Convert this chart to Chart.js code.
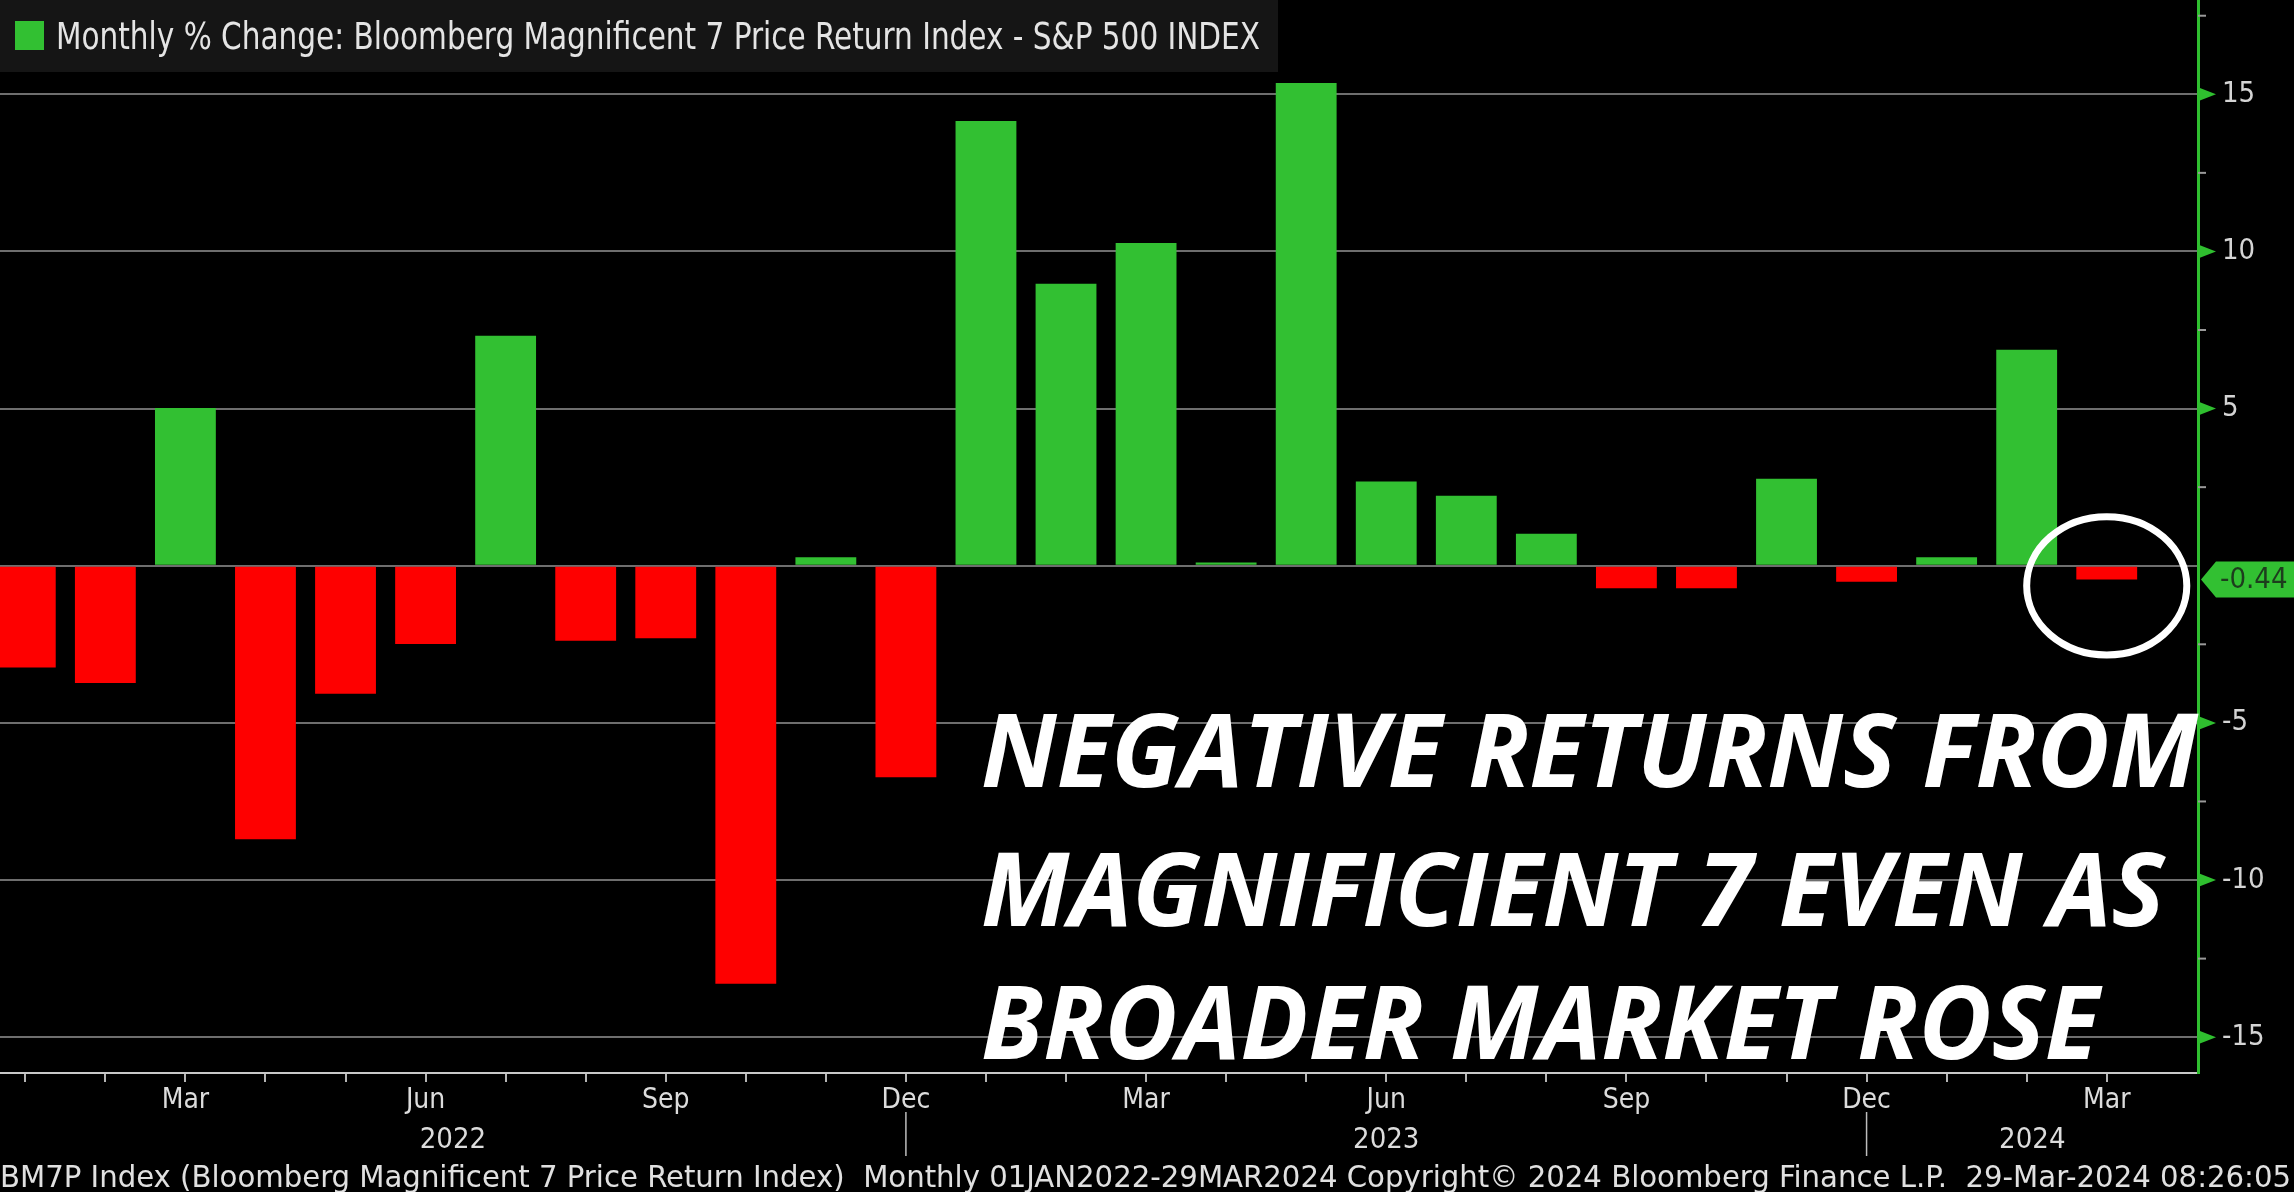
<!DOCTYPE html>
<html>
<head>
    <title>Magnificent 7 vs S&amp;P 500 - Monthly % Change</title>
    <script src="https://cdn.jsdelivr.net/npm/chart.js@4.4.1/dist/chart.umd.min.js"></script>
    <style>
        html, body {
            margin: 0;
            padding: 0;
            background: #000;
        }
        .wrap {
            width: 2294px;
            height: 1192px;
            position: relative;
        }
    </style>
</head>
<body>
    <div class="wrap"><canvas id="chart"></canvas></div>

    <script>
        // Monthly % change, BM7P minus S&P 500, Jan 2022 .. Mar 2024
        const monthNames = ['Jan', 'Feb', 'Mar', 'Apr', 'May', 'Jun', 'Jul', 'Aug', 'Sep', 'Oct', 'Nov', 'Dec',
                            'Jan', 'Feb', 'Mar', 'Apr', 'May', 'Jun', 'Jul', 'Aug', 'Sep', 'Oct', 'Nov', 'Dec',
                            'Jan', 'Feb', 'Mar'];
        const values = [-3.24, -3.73, 5.02, -8.70, -4.07, -2.49, 7.32, -2.39, -2.31, -13.3, 0.27, -6.73,
                        14.15, 8.97, 10.27, 0.10, 15.36, 2.68, 2.23, 1.02, -0.72, -0.72, 2.77, -0.51,
                        0.27, 6.87, -0.44];
        const tickLabels = ['', '', 'Mar', '', '', 'Jun', '', '', 'Sep', '', '', 'Dec',
                            '', '', 'Mar', '', '', 'Jun', '', '', 'Sep', '', '', 'Dec',
                            '', '', 'Mar'];
        const yearLabels = ['2022', '2023', '2024'];
        const yTicks = [-15, -10, -5, 0, 5, 10, 15];
        const yMinorTicks = [-12.5, -7.5, -2.5, 2.5, 7.5, 12.5, 17.5];

        const legendText = 'Monthly % Change: Bloomberg Magnificent 7 Price Return Index - S&P 500 INDEX';
        const footerText = 'BM7P Index (Bloomberg Magnificent 7 Price Return Index)  Monthly 01JAN2022-29MAR2024 Copyright\u00A9 2024 Bloomberg Finance L.P.  29-Mar-2024 08:26:05';
        const noteLines = ['NEGATIVE RETURNS FROM', 'MAGNIFICIENT 7 EVEN AS', 'BROADER MARKET ROSE'];

        const GREEN = '#32c032';
        const RED = '#fe0000';
        const AXIS_GREEN = '#2fbf2f';
        const COND = '"DejaVu Sans Condensed", "Liberation Sans Narrow", "DejaVu Sans", sans-serif';

        // draw text squeezed/stretched horizontally to a target width
        function fitText(ctx, text, x, y, width) {
            const w = ctx.measureText(text).width;
            ctx.save();
            ctx.translate(x, y);
            ctx.scale(width / w, 1);
            ctx.fillText(text, 0, 0);
            ctx.restore();
        }

        const overlay = {
            id: 'overlay',
            afterDraw(chart) {
                const ctx = chart.ctx;
                const a = chart.chartArea;
                const x = chart.scales.x;
                const y = chart.scales.y;
                const W = chart.width;
                ctx.save();

                // minor ticks on the value axis
                ctx.strokeStyle = '#9a9a9a';
                ctx.lineWidth = 2;
                yMinorTicks.forEach(v => {
                    const py = y.getPixelForValue(v);
                    ctx.beginPath();
                    ctx.moveTo(a.right, py);
                    ctx.lineTo(a.right + 8, py);
                    ctx.stroke();
                });

                // green arrow markers at major ticks
                ctx.fillStyle = AXIS_GREEN;
                yTicks.forEach(v => {
                    if (v === 0) return;
                    const py = y.getPixelForValue(v);
                    ctx.beginPath();
                    ctx.moveTo(a.right, py - 7);
                    ctx.lineTo(a.right + 18, py);
                    ctx.lineTo(a.right, py + 7);
                    ctx.closePath();
                    ctx.fill();
                });

                // last value flag
                const last = values[values.length - 1];
                const fy = y.getPixelForValue(last);
                ctx.fillStyle = GREEN;
                ctx.beginPath();
                ctx.moveTo(a.right + 3, fy);
                ctx.lineTo(a.right + 18, fy - 18);
                ctx.lineTo(W, fy - 18);
                ctx.lineTo(W, fy + 18);
                ctx.lineTo(a.right + 18, fy + 18);
                ctx.closePath();
                ctx.fill();
                ctx.fillStyle = '#1d3d1d';
                ctx.font = '29px ' + COND;
                ctx.textBaseline = 'middle';
                ctx.textAlign = 'left';
                ctx.fillText(last.toFixed(2), a.right + 22, fy + 1);

                // year separators and year labels
                const decs = [];
                monthNames.forEach((m, i) => { if (m === 'Dec') decs.push(x.getPixelForValue(i)); });
                ctx.strokeStyle = '#bdbdbd';
                ctx.lineWidth = 1.5;
                decs.forEach(px => {
                    ctx.beginPath();
                    ctx.moveTo(px, 1112);
                    ctx.lineTo(px, 1156);
                    ctx.stroke();
                });
                const edges = [a.left].concat(decs, [a.right]);
                ctx.fillStyle = '#dcdcdc';
                ctx.font = '29px ' + COND;
                ctx.textAlign = 'center';
                ctx.textBaseline = 'alphabetic';
                yearLabels.forEach((t, i) => {
                    ctx.fillText(t, (edges[i] + edges[i + 1]) / 2, 1148);
                });

                // legend box
                ctx.fillStyle = '#151515';
                ctx.fillRect(0, 0, 1278, 72);
                ctx.fillStyle = GREEN;
                ctx.fillRect(15, 21, 29, 29);
                ctx.fillStyle = '#e4e4e4';
                ctx.font = '37px ' + COND;
                ctx.textAlign = 'left';
                fitText(ctx, legendText, 56, 49, 1204);

                // annotation
                ctx.fillStyle = '#ffffff';
                ctx.font = 'italic bold 102px "Open Sans", "DejaVu Sans", sans-serif';
                const sx = 1217 / ctx.measureText(noteLines[0]).width;
                const baselines = [787, 926, 1059];
                noteLines.forEach((t, i) => {
                    ctx.save();
                    ctx.translate(981, baselines[i]);
                    ctx.scale(sx, 1);
                    ctx.fillText(t, 0, 0);
                    ctx.restore();
                });

                // circle around the last bar
                const cx = x.getPixelForValue(values.length - 1);
                const cy = y.getPixelForValue(last - 0.2);
                const rx = x.getPixelForValue(1) - x.getPixelForValue(0);
                const ry = y.getPixelForValue(0) - y.getPixelForValue(2.2);
                ctx.strokeStyle = '#ffffff';
                ctx.lineWidth = 7;
                ctx.beginPath();
                ctx.ellipse(cx, cy, rx, ry, 0, 0, Math.PI * 2);
                ctx.stroke();

                // footer
                ctx.fillStyle = '#e0e0e0';
                ctx.font = '30px ' + COND;
                ctx.textAlign = 'left';
                fitText(ctx, footerText, 0, 1187, 2291);

                ctx.restore();
            }
        };

        const ctx = document.getElementById('chart').getContext('2d');
        const chart = new Chart(ctx, {
            type: 'bar',
            data: {
                datasets: [{
                    data: values.map((v, i) => ({ x: i, y: v })),
                    backgroundColor: values.map(v => v >= 0 ? GREEN : RED),
                    borderWidth: 0,
                    barPercentage: 0.76,
                    categoryPercentage: 1.0
                }]
            },
            options: {
                responsive: true,
                maintainAspectRatio: false,
                animation: false,
                layout: { padding: 0 },
                plugins: {
                    legend: { display: false },
                    tooltip: { enabled: false }
                },
                scales: {
                    x: {
                        type: 'linear',
                        offset: false,
                        min: -0.316,
                        max: 27.14,
                        afterBuildTicks: axis => {
                            axis.ticks = monthNames.map((_, i) => ({ value: i }));
                        },
                        afterFit: axis => {
                            axis.height = 119;
                            axis.paddingLeft = 0;
                            axis.paddingRight = 0;
                        },
                        grid: {
                            offset: false,
                            drawOnChartArea: false,
                            drawTicks: true,
                            tickLength: 9,
                            color: '#b4b4b4',
                            lineWidth: 2
                        },
                        border: { display: true, color: '#c8c8c8', width: 2 },
                        ticks: {
                            autoSkip: false,
                            maxRotation: 0,
                            padding: 2,
                            color: '#dcdcdc',
                            font: { family: COND, size: 28 },
                            callback: value => tickLabels[value] || ''
                        }
                    },
                    y: {
                        position: 'right',
                        min: -16.14,
                        max: 18.0,
                        afterBuildTicks: axis => {
                            axis.ticks = yTicks.map(v => ({ value: v }));
                        },
                        afterFit: axis => {
                            axis.width = 96;
                            axis.paddingTop = 0;
                            axis.paddingBottom = 0;
                        },
                        grid: {
                            color: '#6e6e6e',
                            lineWidth: 2,
                            drawTicks: false
                        },
                        border: { display: true, color: AXIS_GREEN, width: 3 },
                        ticks: {
                            padding: 24,
                            color: '#d4d4d4',
                            font: { family: COND, size: 29 },
                            callback: value => value === 0 ? '' : String(value)
                        }
                    }
                }
            },
            plugins: [overlay]
        });
    </script>
</body>
</html>
